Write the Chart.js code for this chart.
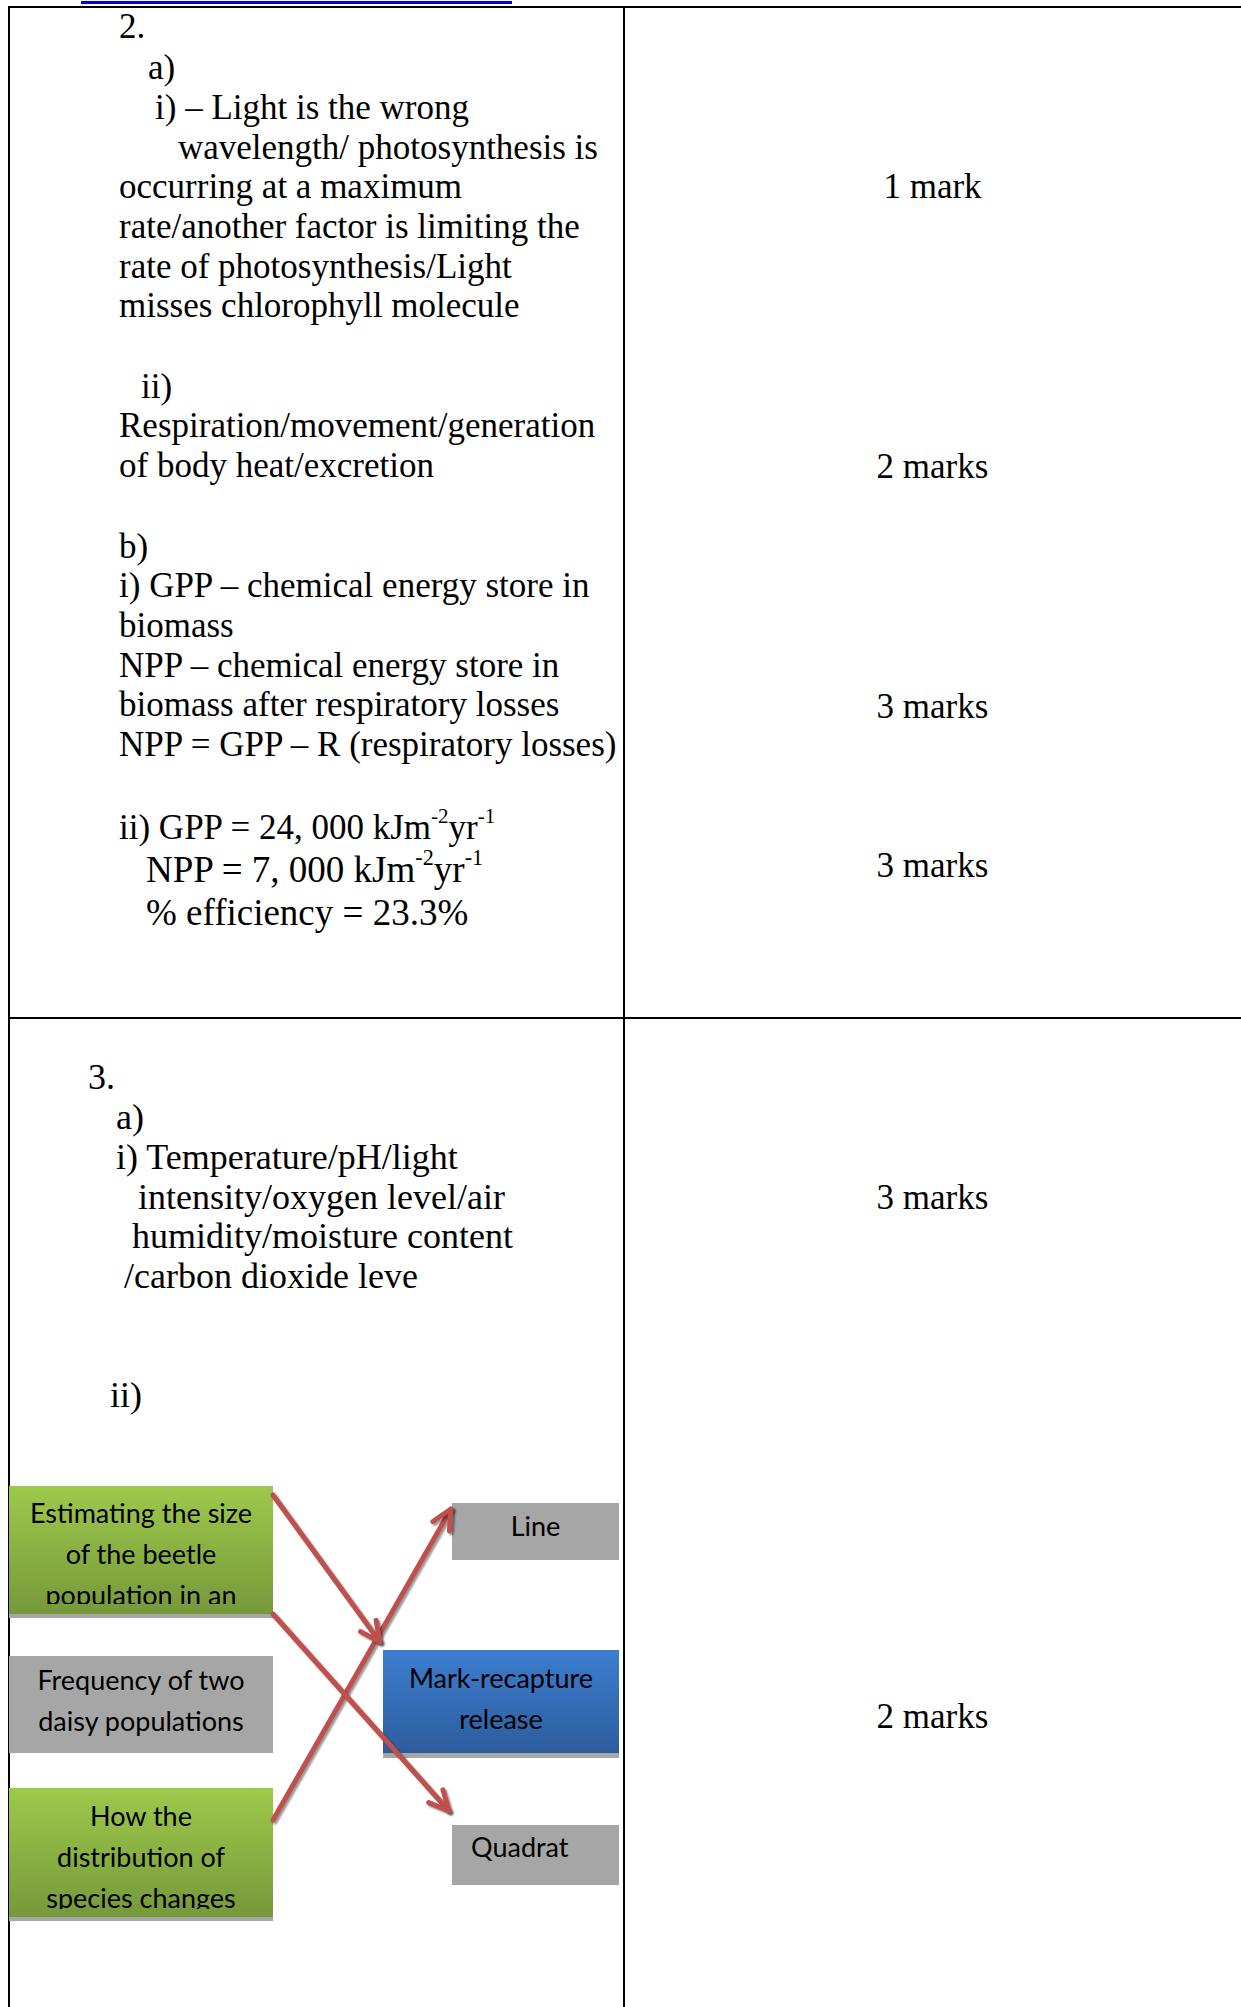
<!DOCTYPE html>
<html>
<head>
<meta charset="utf-8">
<script src="https://cdn.jsdelivr.net/npm/chart.js@4.4.1/dist/chart.umd.min.js"></script>
<style>
  html, body { margin: 0; padding: 0; background: #fff; }
  body { width: 1241px; height: 2007px; position: relative; overflow: hidden; }
  .rule { position: absolute; background: #000; }
  .t { position: absolute; white-space: nowrap; font-family: "Liberation Serif", "Times New Roman", serif;
       font-size: 35px; line-height: 35px; color: #000; }
  .t sup { font-size: 0.6em; line-height: 0; vertical-align: 0.75em; }
  .big { font-size: 37px; }
  .q3 { font-size: 36px; }
  .m { left: 624px; width: 617px; text-align: center; }
  .box { position: absolute; font-family: Lato, "Open Sans", sans-serif; font-size: 27px; line-height: 41px;
         color: #000; text-align: center; }
  .box .clip { overflow: hidden; }
  .green { background: linear-gradient(#9dc94c, #76993a); box-shadow: 0 4px 0 #a6a6a6; }
  .grey { background: #a6a6a6; }
  .blue { background: linear-gradient(#3c7ed0, #2d5c9c); box-shadow: 0 5px 0 #a6a6a6; }
  #arrows { position: absolute; left: 0; top: 0; z-index: 5; pointer-events: none; }
</style>
</head>
<body>

<!-- cut-off hyperlink above the table -->
<div style="position:absolute;left:81px;top:1px;width:431px;height:3px;background:#0000ee;"></div>

<!-- table rules -->
<div class="rule" style="left:9px;top:6px;width:1232px;height:2px;"></div>
<div class="rule" style="left:8px;top:6px;width:2px;height:2001px;"></div>
<div class="rule" style="left:623px;top:6px;width:2px;height:2001px;"></div>
<div class="rule" style="left:9px;top:1017px;width:1232px;height:2px;"></div>

<!-- question 2 -->
<div class="t" style="left:119px;top:9px;">2.</div>
<div class="t" style="left:148px;top:50px;">a)</div>
<div class="t" style="left:155px;top:90px;">i) – Light is the wrong</div>
<div class="t" style="left:178px;top:130px;">wavelength/ photosynthesis is</div>
<div class="t" style="left:119px;top:169px;">occurring at a maximum</div>
<div class="t" style="left:119px;top:209px;">rate/another factor is limiting the</div>
<div class="t" style="left:119px;top:249px;">rate of photosynthesis/Light</div>
<div class="t" style="left:119px;top:288px;">misses chlorophyll molecule</div>
<div class="t" style="left:141px;top:369px;">ii)</div>
<div class="t" style="left:119px;top:408px;">Respiration/movement/generation</div>
<div class="t" style="left:119px;top:448px;">of body heat/excretion</div>
<div class="t" style="left:119px;top:529px;">b)</div>
<div class="t" style="left:119px;top:568px;">i) GPP – chemical energy store in</div>
<div class="t" style="left:119px;top:608px;">biomass</div>
<div class="t" style="left:119px;top:648px;">NPP – chemical energy store in</div>
<div class="t" style="left:119px;top:687px;">biomass after respiratory losses</div>
<div class="t" style="left:119px;top:727px;">NPP = GPP – R (respiratory losses)</div>
<div class="t" style="left:119px;top:810px;">ii) GPP = 24, 000 kJm<sup>-2</sup>yr<sup>-1</sup></div>
<div class="t big" style="left:146px;top:852px;">NPP = 7, 000 kJm<sup>-2</sup>yr<sup>-1</sup></div>
<div class="t big" style="left:146px;top:895px;">% efficiency = 23.3%</div>

<!-- question 3 -->
<div class="t q3" style="left:88px;top:1060px;">3.</div>
<div class="t q3" style="left:116px;top:1100px;">a)</div>
<div class="t q3" style="left:116px;top:1140px;">i) Temperature/pH/light</div>
<div class="t q3" style="left:138px;top:1180px;">intensity/oxygen level/air</div>
<div class="t q3" style="left:132px;top:1219px;">humidity/moisture content</div>
<div class="t q3" style="left:124px;top:1259px;">/carbon dioxide leve</div>
<div class="t q3" style="left:110px;top:1378px;">ii)</div>

<!-- marks column -->
<div class="t m" style="top:169px;">1 mark</div>
<div class="t m" style="top:449px;">2 marks</div>
<div class="t m" style="top:689px;">3 marks</div>
<div class="t m" style="top:848px;">3 marks</div>
<div class="t m" style="top:1180px;">3 marks</div>
<div class="t m" style="top:1699px;">2 marks</div>

<!-- matching diagram boxes -->
<div class="box green" style="left:9px;top:1486px;width:264px;height:128px;">
  <div class="clip" style="height:118px;padding-top:6px;box-sizing:border-box;">Estimating the size<br>of the beetle<br>population in an<br>area</div>
</div>
<div class="box grey" style="left:9px;top:1656px;width:264px;height:97px;">
  <div class="clip" style="padding-top:3px;">Frequency of two<br>daisy populations</div>
</div>
<div class="box green" style="left:9px;top:1788px;width:264px;height:129px;">
  <div class="clip" style="height:121px;padding-top:7px;box-sizing:border-box;">How the<br>distribution of<br>species changes<br>across a field</div>
</div>
<div class="box grey" style="left:452px;top:1503px;width:167px;height:57px;">
  <div class="clip" style="padding-top:2px;">Line</div>
</div>
<div class="box blue" style="left:383px;top:1650px;width:236px;height:103px;">
  <div class="clip" style="padding-top:7px;">Mark-recapture<br>release</div>
</div>
<div class="box grey" style="left:452px;top:1825px;width:167px;height:60px;text-align:left;">
  <div class="clip" style="padding-top:1px;padding-left:19px;">Quadrat</div>
</div>

<canvas id="arrows" width="1241" height="2007"></canvas>

<script>
// page size in px, used as the axis range so values map 1:1
const pageW = 1241;
const pageH = 2007;

// matching arrows: where each one leaves a task box and where its tip lands
const arrowLabels = ['size -> mark-recapture', 'size edge -> quadrat', 'distribution -> line'];
const arrowStartX = [273, 273, 273];
const arrowStartY = [1495, 1614, 1820];
const arrowEndX = [380, 449, 451];
const arrowEndY = [1642, 1811, 1509];

const arrowRed = '#c0504d';

// open "V" head at the last point of every dataset
const arrowHeads = {
  id: 'arrowHeads',
  beforeDatasetDraw(chart) {
    const ctx = chart.ctx;
    ctx.save();
    ctx.shadowColor = 'rgba(0,0,0,0.4)';
    ctx.shadowOffsetX = 2;
    ctx.shadowOffsetY = 2;
    ctx.shadowBlur = 2;
  },
  afterDatasetDraw(chart, args) {
    const ctx = chart.ctx;
    const pts = chart.getDatasetMeta(args.index).data;
    const a = pts[pts.length - 2], b = pts[pts.length - 1];
    const ang = Math.atan2(b.y - a.y, b.x - a.x);
    const len = 22, spread = Math.PI / 7;
    ctx.strokeStyle = arrowRed;
    ctx.lineWidth = 5;
    ctx.lineCap = 'round';
    ctx.lineJoin = 'round';
    ctx.beginPath();
    ctx.moveTo(b.x - len * Math.cos(ang - spread), b.y - len * Math.sin(ang - spread));
    ctx.lineTo(b.x, b.y);
    ctx.lineTo(b.x - len * Math.cos(ang + spread), b.y - len * Math.sin(ang + spread));
    ctx.stroke();
    ctx.restore();
  }
};

new Chart(document.getElementById('arrows'), {
  type: 'scatter',
  data: {
    datasets: arrowLabels.map((lab, i) => ({
      label: lab,
      data: [
        { x: arrowStartX[i], y: arrowStartY[i] },
        { x: arrowEndX[i], y: arrowEndY[i] }
      ],
      showLine: true,
      borderColor: arrowRed,
      borderWidth: 5,
      borderCapStyle: 'round',
      pointRadius: 0
    }))
  },
  options: {
    responsive: false,
    animation: false,
    events: [],
    layout: { padding: 0 },
    plugins: { legend: { display: false }, tooltip: { enabled: false } },
    scales: {
      x: { type: 'linear', min: 0, max: pageW, display: false },
      y: { type: 'linear', min: 0, max: pageH, reverse: true, display: false }
    }
  },
  plugins: [arrowHeads]
});
</script>
</body>
</html>
